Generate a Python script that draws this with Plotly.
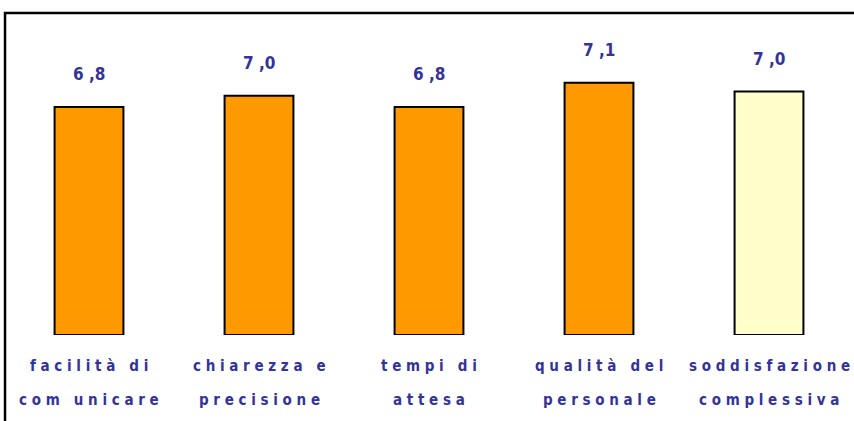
import plotly.graph_objects as go

# categories, split in two lines as in the original slide
cat_line1 = ["f a c i l i t à   d i", "c h i a r e z z a   e", "t e m p i   d i",
             "q u a l i t à   d e l", "s o d d i s f a z i o n e"]
cat_line2 = ["c o m   u n i c a r e", "p r e c i s i o n e", "a t t e s a",
             "p e r s o n a l e", "c o m p l e s s i v a"]
categories = ["facilità di comunicare", "chiarezza e precisione", "tempi di attesa",
              "qualità del personale", "soddisfazione complessiva"]
values = [6.8, 6.94, 6.8, 7.1, 6.99]
value_labels = ["6 ,8", "7 ,0", "6 ,8", "7 ,1", "7 ,0"]
bar_colors = ["#FF9900", "#FF9900", "#FF9900", "#FF9900", "#FFFFCC"]

axis_base = 4.0
text_color = "#333399"
label_font = "DejaVu Sans Condensed, Liberation Sans Narrow, Liberation Sans, sans-serif"

fig = go.Figure(
    go.Bar(
        x=categories,
        y=[v - axis_base for v in values],
        base=axis_base,
        marker=dict(color=bar_colors, line=dict(color="black", width=2)),
        width=0.405,
        hoverinfo="skip",
    )
)

# value labels above bars
for c, v, t in zip(categories, values, value_labels):
    fig.add_annotation(
        x=c, y=v, text="<b>" + t + "</b>", showarrow=False,
        yanchor="bottom", yshift=21,
        font=dict(family=label_font, size=17, color=text_color),
    )

# two-line category labels under the bars
for c, l1, l2 in zip(categories, cat_line1, cat_line2):
    fig.add_annotation(
        x=c, y=-0.096, yref="paper", text="<b>" + l1 + "</b>", showarrow=False,
        yanchor="middle", font=dict(family=label_font, size=15, color=text_color),
    )
    fig.add_annotation(
        x=c, y=-0.201, yref="paper", text="<b>" + l2 + "</b>", showarrow=False,
        yanchor="middle", font=dict(family=label_font, size=15, color=text_color),
    )

# frame of the chart (cut off at right and bottom in the original)
fig.add_shape(
    type="rect", xref="paper", yref="paper",
    x0=0.0012, x1=1.2, y0=-0.6, y1=0.997,
    line=dict(color="black", width=2.5),
)

fig.update_layout(
    width=854,
    height=421,
    plot_bgcolor="white",
    paper_bgcolor="white",
    margin=dict(l=4, r=0, t=12, b=86),
    showlegend=False,
)
fig.update_xaxes(
    showticklabels=False, showgrid=False, zeroline=False, showline=False,
    range=[-0.5, 4.5],
)
fig.update_yaxes(
    showticklabels=False, showgrid=False, zeroline=False, showline=False,
    range=[axis_base, axis_base + 323 / 81.4],
)

fig.write_html(
    "out.html",
    config={"displayModeBar": False},
    post_script="document.body.style.margin = '0';",
)
